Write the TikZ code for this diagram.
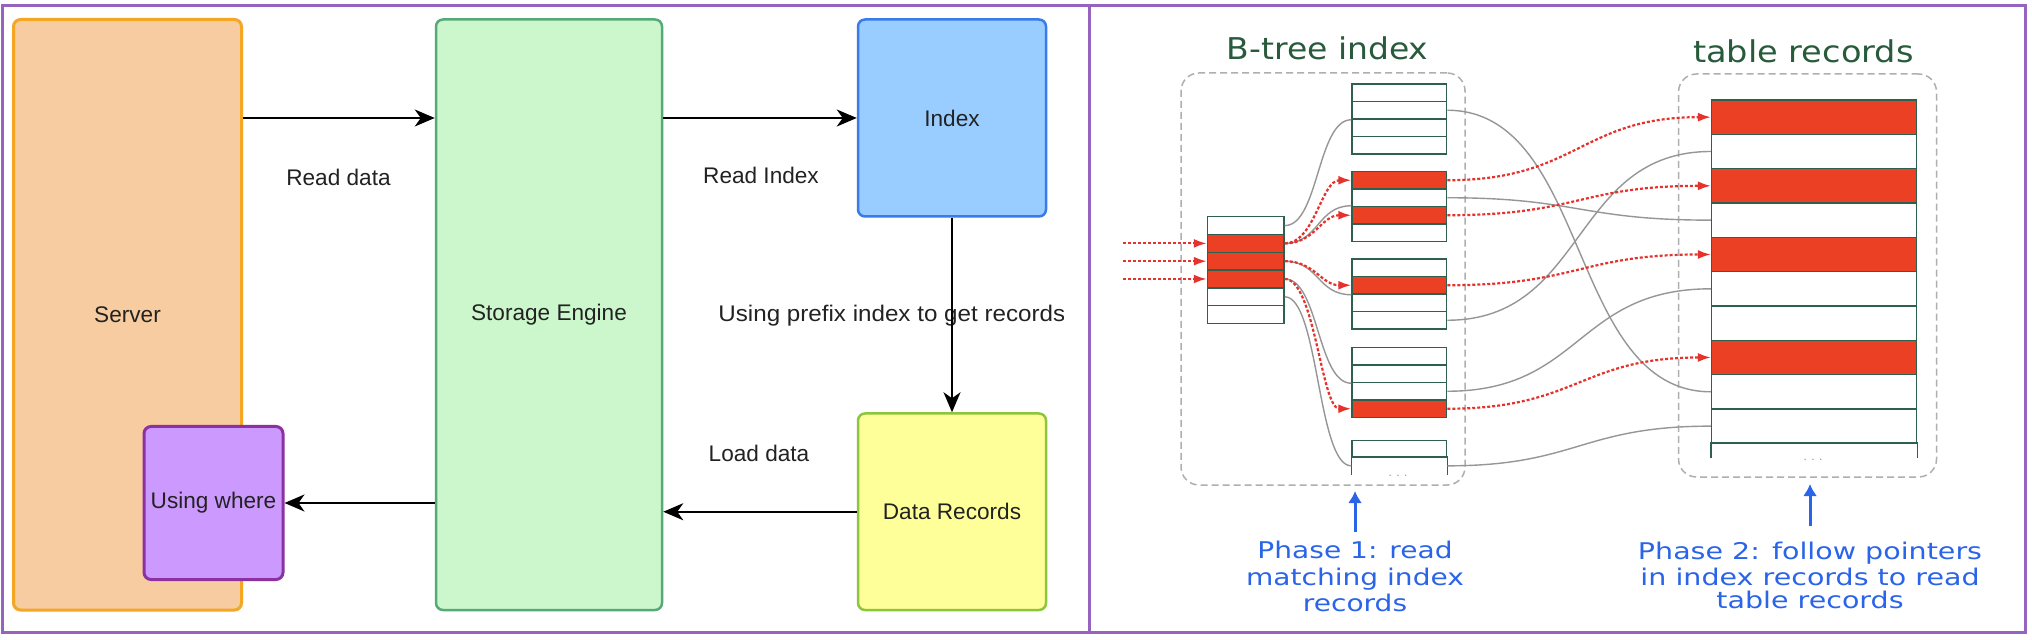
\documentclass[tikz,border=0pt]{standalone}
\usepackage{fontspec}
\usepackage{graphicx}
\setmainfont{Liberation Sans}
\newfontfamily\djv{DejaVu Sans}
\usetikzlibrary{arrows.meta}
\definecolor{frameP}{RGB}{150,100,190}
\definecolor{serverF}{RGB}{246,204,160}
\definecolor{serverD}{RGB}{245,166,35}
\definecolor{storF}{RGB}{204,247,204}
\definecolor{storD}{RGB}{85,170,120}
\definecolor{idxF}{RGB}{153,204,255}
\definecolor{idxD}{RGB}{58,123,234}
\definecolor{datF}{RGB}{255,255,153}
\definecolor{datD}{RGB}{140,198,60}
\definecolor{wheF}{RGB}{204,153,255}
\definecolor{wheD}{RGB}{140,50,160}
\definecolor{txt}{RGB}{34,34,34}
\definecolor{recG}{RGB}{47,95,79}
\definecolor{recR}{RGB}{236,64,36}
\definecolor{ptrR}{RGB}{230,50,45}
\definecolor{ptrG}{RGB}{150,150,150}
\definecolor{dashG}{RGB}{175,175,175}
\definecolor{ttl}{RGB}{40,90,60}
\definecolor{phB}{RGB}{42,100,232}
\newcommand\lblfont{\fontsize{11.3}{13.5}\selectfont}
\newcommand\ttlfont{\djv\fontsize{15}{18}\selectfont}
\newcommand\phfont{\djv\fontsize{11.5}{13.4}\selectfont}
\begin{document}
\begin{tikzpicture}[x=0.5pt,y=-0.5pt,
  box/.style={draw, rounded corners=3.5pt, inner sep=0pt, font=\lblfont, text=txt},
  lbl/.style={font=\lblfont, text=txt, inner sep=0pt},
  arr/.style={draw=black, line width=0.9pt, -{Stealth[length=10pt,width=8.5pt,inset=3pt]}},
  dbox/.style={draw=dashG, line width=0.75pt, dash pattern=on 3.5pt off 2pt, rounded corners=9pt, inner sep=0pt},
  recline/.style={draw=recG, line width=0.75pt},
  rootrow/.style={recline, inner sep=0pt, minimum width=38.25pt, minimum height=8.9pt},
  leafrow/.style={recline, fill=white, inner sep=0pt, minimum width=47.25pt, minimum height=8.75pt},
  tabrow/.style={recline, inner sep=0pt, minimum width=102.5pt, minimum height=17.17pt},
  gline/.style={draw=ptrG, line width=0.7pt},
  rline/.style={draw=ptrR, line width=1.1pt, dash pattern=on 1.5pt off 1pt, -{Latex[length=6.5pt,width=4.5pt]}},
  ttlnode/.style={font=\ttlfont, text=ttl, inner sep=0pt, anchor=base},
  phase/.style={font=\phfont, text=phB, inner sep=0pt, anchor=base},
  bluearr/.style={draw=phB, line width=1.5pt, -{Latex[length=6pt,width=7pt]}},
  dotsn/.style={font=\fontsize{6}{6}\selectfont, text=ptrG, inner sep=0pt}]
\useasboundingbox (0,0) rectangle (2032,640);
\fill[white] (0,0) rectangle (2032,640);

% ---------- left panel ----------
\node[box, fill=serverF, draw=serverD, line width=1.5pt, minimum width=114pt, minimum height=295.25pt] (server) at (127.5,314.75) {Server};
\node[box, fill=storF, draw=storD, line width=1.25pt, minimum width=113pt, minimum height=295.25pt] (storage) at (549,314.75) {Storage Engine};
\node[box, fill=idxF, draw=idxD, line width=1.25pt, minimum width=94pt, minimum height=98.5pt] (index) at (952,118) {Index};
\node[box, fill=datF, draw=datD, line width=1.25pt, minimum width=94pt, minimum height=98.25pt] (data) at (952,511.75) {Data Records};
\node[box, fill=wheF, draw=wheD, line width=1.5pt, minimum width=69.5pt, minimum height=76.5pt] (where) at (213.5,503) {Using where};

\node[lbl] (lreaddata) at (338.5,177.6) {Read data};
\node[lbl] (lreadidx) at (761,175.5) {Read Index};
\node[lbl] (lload) at (759,453) {Load data};
\begin{scope}
  \clip (700,280) rectangle (1063,345);
  \node[lbl, anchor=base west] (lprefix) at (718,321.7) {\scalebox{1.07}[1]{Using prefix index to get records}};
\end{scope}

\draw[arr] (server.east |- index.center) -- (storage.west |- index.center);
\draw[arr] (storage.east |- index.center) -- (index.west);
\draw[arr] (index.south) -- (data.north);
\draw[arr] (data.west) -- (storage.east |- data.west);
\draw[arr] (storage.west |- where.east) -- (where.east);

% ---------- right panel ----------
\node[dbox, minimum width=142pt, minimum height=206pt] (box1) at (1323,279) {};
\node[dbox, minimum width=129pt, minimum height=201.5pt] (box2) at (1807.5,275.5) {};

\node[ttlnode] (ttl1) at (1327.5,59.3) {\scalebox{1.1}[1]{B-tree index}};
\node[ttlnode] (ttl2) at (1803.3,62.7) {\scalebox{1.12}[1]{table records}};

% root node
\foreach \i/\f in {1/white,2/recR,3/recR,4/recR,5/white,6/white}
  \node[rootrow, fill=\f] (root-\i) at (1245.75,{216.7+(\i-0.5)*17.8}) {};

% leaf nodes
\foreach \L/\T/\fa/\fb/\fc/\fd in {1/84/white/white/white/white, 2/171.5/recR/white/recR/white, 3/259/white/recR/white/white, 4/347.5/white/white/white/recR}{
  \foreach \i/\f in {1/\fa,2/\fb,3/\fc,4/\fd}
    \node[leafrow, fill=\f] (l\L-\i) at (1399.25,{\T+(\i-0.5)*17.5}) {};
}
\node[leafrow, minimum height=8.6pt] (l5-1) at (1399.25,449.1) {};
\node[leafrow, draw=none, fill=none, minimum height=8.15pt] (l5-2) at (1399.25,465.85) {};
\draw[recline] (l5-2.south west) -- (l5-2.north west) -- (l5-2.north east) -- (l5-2.south east);
\node[dotsn] (ldots) at (1398,476) {. . .};

% table records
\foreach \i/\f in {1/recR,2/white,3/recR,4/white,5/recR,6/white,7/white,8/recR,9/white,10/white}
  \node[tabrow, fill=\f] (t-\i) at (1814.2,{100+(\i-0.5)*34.33}) {};
\node[tabrow, draw=none, fill=none, minimum height=7.1pt] (t-11) at (1814.2,450.4) {};
\draw[recline] (t-11.south west) -- (t-11.north west) -- (t-11.north east) -- (t-11.south east);
\node[dotsn] (tdots) at (1813,460) {. . .};

% gray pointers root -> leaves
\draw[gline] (root-1.east) .. controls +(34,0) and +(-34,0) .. (l1-2.south west);
\draw[gline] (root-2.east) .. controls +(34,0) and +(-34,0) .. (l2-3.north west);
\draw[gline] (root-3.east) .. controls +(34,0) and +(-34,0) .. (l3-2.south west);
\draw[gline] (root-4.east) .. controls +(34,0) and +(-34,0) .. (l4-2.south west);
\draw[gline] (root-5.east) .. controls +(34,0) and +(-34,0) .. (l5-2.west);

% gray pointers leaves -> table
\draw[gline] (l1-2.east) .. controls +(143,0) and +(-143,0) .. (t-9.west);
\draw[gline] (l2-2.east) .. controls +(130,0) and +(-130,0) .. (t-4.west);
\draw[gline] (l3-4.east) .. controls +(140,0) and +(-140,0) .. (t-2.west);
\draw[gline] (l4-3.east) .. controls +(135,0) and +(-135,0) .. (t-6.west);
\draw[gline] (l5-2.east) .. controls +(130,0) and +(-130,0) .. (t-10.west);

% red search path
\coordinate (in-2) at (1123,243.4);
\coordinate (in-3) at (1123,261.2);
\coordinate (in-4) at (1123,279.0);
\draw[rline] (in-2) -- (root-2.west);
\draw[rline] (in-3) -- (root-3.west);
\draw[rline] (in-4) -- (root-4.west);
\draw[rline] (root-2.east) .. controls +(30,0) and +(-30,0) .. (l2-1.west);
\draw[rline] (root-2.east) .. controls +(30,0) and +(-30,0) .. (l2-3.west);
\draw[rline] (root-3.east) .. controls +(30,0) and +(-30,0) .. (l3-2.west);
\draw[rline] (root-4.east) .. controls +(30,0) and +(-30,0) .. (l4-4.west);
\draw[rline] (l2-1.east) .. controls +(130,0) and +(-130,0) .. (t-1.west);
\draw[rline] (l2-3.east) .. controls +(130,0) and +(-130,0) .. (t-3.west);
\draw[rline] (l3-2.east) .. controls +(130,0) and +(-130,0) .. (t-5.west);
\draw[rline] (l4-4.east) .. controls +(130,0) and +(-130,0) .. (t-8.west);

% phase captions
\node[phase] (p1a) at (1355,558.3) {\scalebox{1.22}[1]{Phase 1: read}};
\node[phase] (p1b) at (1355,585) {\scalebox{1.22}[1]{matching index}};
\node[phase] (p1c) at (1355,611.7) {\scalebox{1.22}[1]{records}};
\node[phase] (p2a) at (1810,559.5) {\scalebox{1.24}[1]{Phase 2: follow pointers}};
\node[phase] (p2b) at (1810,585.5) {\scalebox{1.24}[1]{in index records to read}};
\node[phase] (p2c) at (1810,608) {\scalebox{1.24}[1]{table records}};
\coordinate (p1tip) at (1355,491);
\coordinate (p2tip) at (1810,484);
\draw[bluearr] ([yshift=4pt]p1a.north) -- (p1tip);
\draw[bluearr] ([yshift=8pt]p2a.north) -- (p2tip);

% frame
\draw[frameP, line width=1.5pt] (2,6) rectangle (2025,632);
\draw[frameP, line width=1.5pt] (1089,6) -- (1089,632);
\end{tikzpicture}
\end{document}
